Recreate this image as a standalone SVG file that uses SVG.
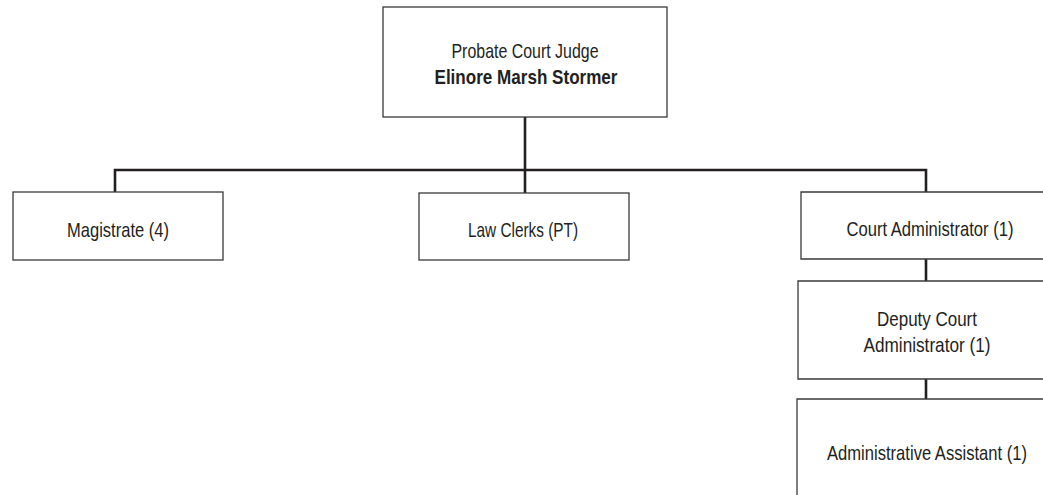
<svg xmlns="http://www.w3.org/2000/svg" width="1043" height="495" viewBox="0 0 1043 495">
  <style>
    .box { fill: #ffffff; stroke: #3a3a3a; stroke-width: 1.3; }
    .lbl { font-family: "Liberation Sans", Arial, sans-serif; font-size: 21px; fill: #231f20; text-anchor: middle; }
    .bold { font-weight: bold; }
    .conn { fill: none; stroke: #231f20; stroke-width: 2.6; }
  </style>
  <rect width="1043" height="495" fill="#ffffff"/>

  <!-- connectors -->
  <g id="connectors">
    <path class="conn" d="M525,117 V193"/>
    <path class="conn" d="M115,192 V170 H926 V192"/>
    <path class="conn" d="M926,259 V281"/>
    <path class="conn" d="M926,379 V399"/>
  </g>

  <!-- judge; labels are squeezed to a condensed width -->
  <g id="judge">
    <rect class="box" x="383" y="7" width="284" height="110"/>
    <text class="lbl" x="525" y="58" textLength="147" lengthAdjust="spacingAndGlyphs">Probate Court Judge</text>
    <text class="lbl bold" x="526" y="84" textLength="183" lengthAdjust="spacingAndGlyphs">Elinore Marsh Stormer</text>
  </g>

  <g id="magistrate">
    <rect class="box" x="13" y="192" width="210" height="68"/>
    <text class="lbl" x="118" y="237" textLength="102" lengthAdjust="spacingAndGlyphs">Magistrate (4)</text>
  </g>

  <g id="law-clerks">
    <rect class="box" x="419" y="193" width="210" height="67"/>
    <text class="lbl" x="523" y="237" textLength="110" lengthAdjust="spacingAndGlyphs">Law Clerks (PT)</text>
  </g>

  <!-- the right-hand column runs past the page edge -->
  <g id="court-administrator">
    <path class="box" d="M1045,192 H801 V259 H1045"/>
    <text class="lbl" x="930" y="236" textLength="167" lengthAdjust="spacingAndGlyphs">Court Administrator (1)</text>
  </g>

  <g id="deputy-court-administrator">
    <path class="box" d="M1045,281 H798 V379 H1045"/>
    <text class="lbl" x="927" y="326" textLength="100" lengthAdjust="spacingAndGlyphs">Deputy Court</text>
    <text class="lbl" x="927" y="352" textLength="127" lengthAdjust="spacingAndGlyphs">Administrator (1)</text>
  </g>

  <g id="administrative-assistant">
    <path class="box" d="M1045,399 H797 V497"/>
    <text class="lbl" x="927" y="460" textLength="200" lengthAdjust="spacingAndGlyphs">Administrative Assistant (1)</text>
  </g>
</svg>
